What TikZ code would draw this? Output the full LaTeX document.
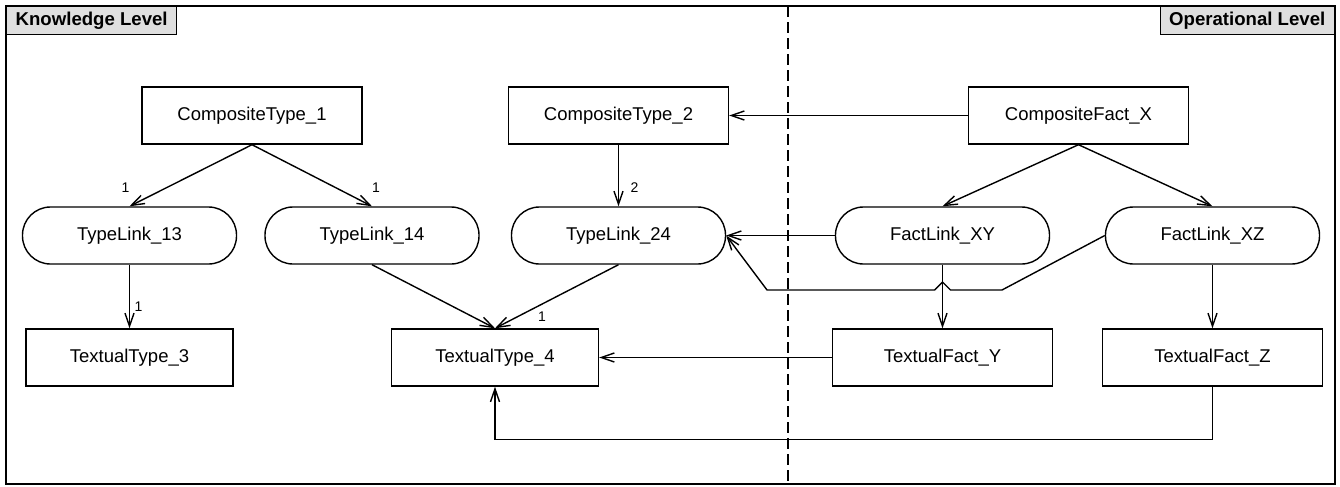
\documentclass[tikz,border=0pt]{standalone}
\usepackage{fontspec}
\setmainfont{Liberation Sans}
\usetikzlibrary{arrows.meta,positioning}

\begin{document}
\begin{tikzpicture}[x=0.5pt,y=-0.5pt,line width=0.7pt,
    >={Straight Barb[length=6.5pt,width=4.5pt]},
    box/.style={draw, minimum width=110pt, minimum height=28.5pt, inner sep=0pt,
        font=\fontsize{9.25}{11}\selectfont},
    tbox/.style={box, minimum width=103.5pt},
    link/.style={box, rounded corners=14pt, minimum width=107pt},
    lvl/.style={draw, fill=gray!25, minimum height=14pt, inner xsep=4.5pt, inner ysep=0pt,
        font=\fontsize{9.3}{11}\bfseries\selectfont},
    mult/.style={inner sep=0pt, font=\fontsize{7}{8}\selectfont}]
\useasboundingbox (0,0) rectangle (1340,487);

% Frame and levels
\draw (6,6) rectangle (1335,484);
\draw[dash pattern=on 5.5pt off 2.5pt] (788,6) -- (788,484);
\node[lvl, anchor=north west] (klevel) at (6,6) {Knowledge Level};
\node[lvl, anchor=north east] (olevel) at (1335,6) {Operational Level};

% Knowledge level
\node[box] (ct1) at (252,115.5) {CompositeType\_1};
\node[box] (ct2) at (618.5,115.5) {CompositeType\_2};
\node[link] (tl13) at (129.5,235.5) {TypeLink\_13};
\node[link] (tl14) at (372,235.5) {TypeLink\_14};
\node[link] (tl24) at (618.5,235.5) {TypeLink\_24};
\node[tbox] (tt3) at (129.5,357.5) {TextualType\_3};
\node[tbox] (tt4) at (495,357.5) {TextualType\_4};

% Operational level
\node[box] (cfx) at (1078.5,115.5) {CompositeFact\_X};
\node[link] (flxy) at (942.5,235.5) {FactLink\_XY};
\node[link] (flxz) at (1212.5,235.5) {FactLink\_XZ};
\node[box] (tfy) at (942.5,357.5) {TextualFact\_Y};
\node[box] (tfz) at (1212.5,357.5) {TextualFact\_Z};

% Type structure
\draw[->] (ct1.south) -- (tl13.north);
\draw[->] (ct1.south) -- (tl14.north);
\draw[->] (ct2.south) -- (tl24.north);
\draw[->] (tl13.south) -- (tt3.north);
\draw[->] (tl14.south) -- (tt4.north);
\draw[->] (tl24.south) -- (tt4.north);
\node[mult] at ([shift={(-4,-19)}]tl13.north) {1};
\node[mult] at ([shift={(4,-19)}]tl14.north) {1};
\node[mult] at ([shift={(16,-19)}]tl24.north) {2};
\node[mult] at ([shift={(9,-22)}]tt3.north) {1};
\node[mult] at ([shift={(47,-12)}]tt4.north) {1};

% Fact structure
\draw[->] (cfx.south) -- (flxy.north);
\draw[->] (cfx.south) -- (flxz.north);
\draw[->] (flxy.south) -- (tfy.north);
\draw[->] (flxz.south) -- (tfz.north);

% Instance of
\draw[->] (cfx.west) -- (ct2.east);
\draw[->] (flxy.west) -- (tl24.east);
\draw[->] (flxz.west) -- (1002,290) -- (950.5,290) -- (942.5,282) -- (934.5,290)
    -- (767,290) -- (tl24.east);
\draw[->] (tfy.west) -- (tt4.east);
\draw[->] (tfz.south) -- ++(0,53) -| (tt4.south);
\end{tikzpicture}
\end{document}
